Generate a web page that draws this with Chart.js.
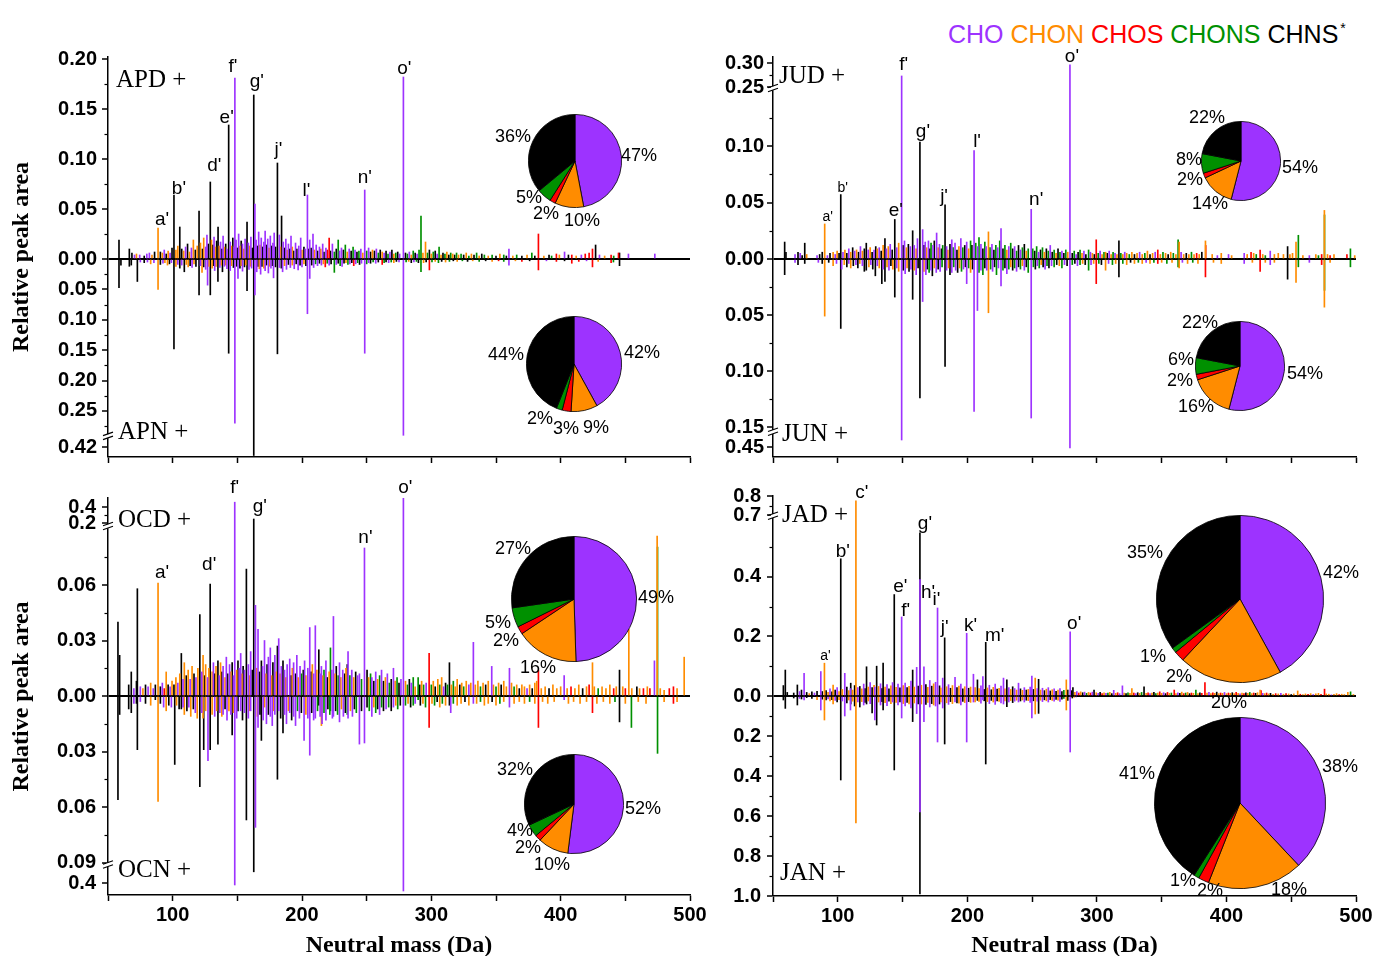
<!DOCTYPE html>
<html>
<head>
<meta charset="utf-8">
<script src="https://cdn.jsdelivr.net/npm/chart.js@4.4.0/dist/chart.umd.min.js"></script>
<style>
body{margin:0;background:#fff;width:1376px;height:956px;position:relative;overflow:hidden;font-family:"Liberation Sans",Arial,sans-serif}
canvas{position:absolute}
.tag{position:absolute;font-family:"Liberation Serif","Times New Roman",serif;font-size:25px;line-height:1;white-space:nowrap}
.pct{position:absolute;font-size:18px;line-height:1;transform:translate(-50%,-50%);white-space:nowrap}
#legend{position:absolute;left:948px;top:21px;font-size:25px;line-height:1;white-space:nowrap}
#legend sup{font-size:14px;vertical-align:10px;margin-left:2px}
</style>
</head>
<body>
<div id="legend"></div>
<script>
// classes: CHO, CHON, CHOS, CHONS, CHNS
const P = 0, O = 1, R = 2, G = 3, K = 4;
const classes = ['CHO', 'CHON', 'CHOS', 'CHONS', 'CHNS'];
const colors = ['#9d33ff', '#ff8c00', '#ff0000', '#009000', '#000000'];
const massTicks = [50, 100, 150, 200, 250, 300, 350, 400, 450, 500];

// peaks: [neutral mass, relative peak area, class]
const apdPeaks = [
  [58.5,.019,K],[66.5,.010,K],[68.5,.006,K],[70.5,.004,P],[72,.005,O],[74.5,.004,P],[78,.003,K],[80,.005,P],[82,.006,P],[84,.004,O],
  [86,.007,K],[88.7,.031,O],[90.5,.007,K],[92,.006,O],[93.5,.009,P],[95,.005,K],[96.5,.008,O],[98,.006,P],[99.5,.011,K],[101,.064,K],
  [102.5,.009,O],[104,.013,O],[105.5,.032,K],[107,.010,K],[108.5,.008,O],[110,.012,P],[111.5,.015,K],[113,.007,O],[114.5,.011,P],[116,.019,O],
  [117.5,.009,K],[119,.013,O],[120.4,.048,K],[121.5,.016,O],[123,.010,K],[124,.021,O],[125.5,.012,P],[126.5,.024,P],[127.5,.015,K],[129.1,.077,K],
  [130,.019,O],[131,.014,K],[132,.022,P],[133,.012,O],[134,.018,K],[135.1,.032,K],[136,.013,O],[137,.017,P],[138,.010,K],[139,.023,P],
  [140,.012,O],[141,.015,K],[142,.010,P],[143.3,.134,K],[144.5,.017,P],[145.5,.013,O],[146.5,.021,K],[147.5,.012,P],[148.1,.181,P],[149,.019,P],
  [150,.011,K],[151,.025,P],[152,.013,O],[153,.018,K],[154,.015,P],[155,.010,O],[156,.020,P],[157.5,.037,K],[158.5,.016,P],[159.5,.013,O],
  [160.5,.022,P],[161.5,.011,K],[162.7,.164,K],[163.6,.055,P],[164.5,.019,P],[165.5,.013,K],[166.5,.027,P],[167.5,.014,O],[168.5,.021,P],[169.5,.012,K],
  [170.5,.017,P],[171.5,.028,P],[172.5,.014,K],[173.5,.020,P],[174.5,.011,O],[175.5,.023,P],[176.5,.013,K],[177.5,.016,P],[178.5,.026,P],[179.5,.012,K],
  [181,.096,K],[182.5,.024,P],[183.3,.012,O],[184.2,.043,K],[185.5,.017,P],[186.5,.011,K],[187.5,.020,P],[188.5,.009,O],[189.5,.015,P],[190.5,.010,K],
  [191.5,.023,P],[192.5,.012,O],[193.5,.008,K],[195,.016,P],[196,.010,K],[197.5,.013,P],[199,.021,P],[200,.009,O],[201.5,.012,K],[202.5,.010,P],
  [204.2,.064,P],[205,.010,K],[206,.019,P],[207,.011,K],[208.5,.025,P],[209.5,.009,O],[211,.014,P],[212,.008,K],[213.5,.012,P],[214.5,.010,O],
  [216,.015,P],[217,.007,K],[218.5,.011,P],[219.5,.009,R],[221,.021,R],[222,.008,K],[223.5,.015,P],[225,.007,G],[226.5,.010,K],[228,.019,G],
  [229,.008,P],[230.5,.011,P],[232,.009,K],[233.5,.014,G],[235,.007,O],[236.5,.010,P],[238,.008,K],[239.5,.012,G],[241,.009,P],[242.5,.007,K],
  [244,.008,G],[245.5,.010,P],[247,.006,O],[248.5,.069,P],[250,.008,G],[251.5,.011,P],[253,.007,K],[254.5,.009,O],[256,.008,K],[257.5,.010,P],
  [259,.006,G],[260.5,.009,K],[262,.007,O],[263.5,.006,P],[265,.008,K],[266.5,.005,G],[268,.007,P],[269.5,.009,K],[271,.005,O],[272.5,.006,G],
  [274,.007,K],[275.5,.005,P],[278.4,.182,P],[280,.006,K],[281.5,.005,G],[283,.007,P],[284.5,.004,O],[286,.008,G],[287.5,.006,K],[289,.005,P],
  [290.5,.009,G],[292,.043,G],[293.5,.006,O],[295.5,.017,O],[297,.006,G],[298.5,.009,K],[300,.005,O],[301.5,.007,G],[303,.008,K],[304.5,.005,P],
  [306,.012,G],[307.5,.004,O],[309,.006,K],[310.5,.005,G],[312,.007,O],[313.5,.004,K],[315,.006,G],[316.5,.005,O],[318,.004,K],[319.5,.006,G],
  [321,.004,O],[323,.005,G],[325,.004,K],[327,.006,O],[329,.003,G],[331,.005,O],[333,.004,K],[335,.006,G],[337,.003,O],[339,.005,K],
  [341,.004,G],[344,.003,O],[347,.004,G],[350,.003,K],[353,.005,O],[356,.004,G],[358,.003,K],[360,.010,P],[363,.003,O],[366,.004,G],
  [370,.003,K],[374,.004,O],[377.7,.006,G],[380,.003,K],[382.8,.025,R],[387,.003,O],[391,.004,K],[393,.003,G],[396.7,.005,R],[399,.004,O],
  [403,.007,P],[406,.004,K],[408.6,.004,R],[412,.003,O],[416,.004,P],[419,.005,R],[422,.006,R],[424.6,.010,R],[427,.014,K],[430,.004,P],
  [434,.003,O],[439,.004,R],[441,.003,G],[444.7,.006,R],[445.5,.006,K],[452.4,.005,P],[472.8,.005,P]
];
const apnPeaks = [
  [58.5,.047,K],[60,.010,K],[66.5,.012,K],[68,.010,K],[72.7,.037,K],[75,.005,P],[78,.006,K],[80.5,.005,P],[83,.008,O],[85.5,.006,P],
  [88.7,.050,O],[90.5,.009,K],[92.5,.007,P],[94,.006,O],[96,.010,O],[97.5,.008,K],[99,.006,P],[101,.148,K],[102.5,.012,O],[104,.009,P],
  [105.5,.015,K],[107,.010,P],[109,.021,K],[110.5,.009,O],[112,.013,O],[113.5,.011,K],[115,.014,P],[116.5,.008,O],[118,.012,K],[120.4,.059,K],
  [121.5,.011,P],[122.7,.022,O],[124,.013,K],[125.5,.017,P],[127,.043,P],[128,.012,O],[129.1,.059,K],[130.5,.015,O],[131.5,.011,K],[132.5,.019,P],
  [133.5,.012,O],[135,.037,K],[136.5,.014,P],[137.5,.010,O],[138.5,.021,K],[140,.012,P],[141,.010,O],[142,.016,P],[143.3,.155,K],[144.5,.019,P],
  [145.5,.011,O],[147,.014,K],[148.1,.270,P],[149.5,.012,K],[150.5,.032,P],[152,.015,K],[153,.011,O],[154,.020,P],[155.5,.013,K],[156.5,.010,O],
  [157.5,.052,K],[159,.017,P],[160,.012,O],[161,.015,P],[162.7,.437,K],[163.6,.059,P],[165,.021,P],[166,.012,K],[167,.016,O],[168,.025,P],
  [169,.012,K],[170.5,.015,O],[171.5,.019,P],[172.5,.010,K],[174,.023,P],[175,.012,O],[176,.015,P],[177,.011,K],[178,.031,P],[179.5,.013,K],
  [181,.156,K],[182.5,.014,P],[184,.015,K],[185,.021,P],[186.5,.011,O],[188,.017,P],[189.5,.009,K],[191,.014,P],[192.5,.010,O],[194,.016,P],
  [195.5,.008,K],[197,.018,P],[198.5,.010,K],[200,.013,P],[201.5,.008,O],[203,.011,K],[204.2,.090,P],[206,.032,P],[207.5,.010,K],[209,.014,P],
  [210.5,.008,G],[212,.011,P],[213.5,.007,K],[215,.010,P],[216.5,.008,O],[218,.013,R],[219.5,.007,G],[221,.010,P],[222.5,.008,K],[225,.022,G],
  [226.5,.009,P],[228,.007,K],[229.5,.011,G],[231,.012,P],[232.5,.007,K],[234,.006,O],[235.5,.009,G],[237,.008,P],[238.5,.006,K],[240,.011,R],
  [241.5,.008,P],[243,.006,G],[244.5,.009,K],[246,.007,P],[248.5,.155,P],[250,.008,G],[251.5,.006,P],[253,.007,K],[255,.005,G],[257,.007,P],
  [259,.005,K],[262,.009,R],[263.5,.006,G],[265,.005,K],[267,.006,P],[269,.005,G],[271,.006,O],[273,.004,K],[275,.005,P],[278.4,.290,P],
  [280.5,.005,G],[282.5,.004,O],[284.5,.006,K],[286.5,.005,P],[288.5,.004,G],[290,.006,K],[292,.021,G],[294,.006,O],[296,.005,K],[298.5,.018,R],
  [300.5,.005,G],[303,.004,O],[305.5,.006,G],[308,.004,K],[311,.005,O],[314,.004,G],[317,.003,K],[320,.004,O],[324,.003,G],[328,.004,K],
  [332,.003,O],[337,.004,G],[342,.003,K],[347,.004,O],[352,.003,R],[356,.004,G],[360,.010,P],[365,.003,O],[370,.004,R],[376,.003,K],
  [382.8,.018,R],[389,.003,P],[396.7,.004,R],[403,.003,K],[408.6,.007,R],[414,.004,R],[420,.003,P],[424.6,.013,R],[429,.004,O],[439,.006,R],
  [440.8,.005,G],[445.5,.011,K]
];
const judPeaks = [
  [59,.015,K],[60,.006,K],[67,.004,P],[69.3,.006,K],[71,.005,P],[72.5,.003,K],[74.5,.014,K],[76,.004,O],[84,.003,P],[86,.004,K],
  [88,.006,K],[89.9,.031,O],[92,.003,P],[94,.005,K],[96.4,.006,O],[98,.004,P],[99.5,.007,O],[101,.005,K],[102.3,.057,K],[104,.006,P],
  [105.5,.008,O],[107,.005,K],[108.5,.009,P],[110,.006,O],[111.5,.010,K],[113,.007,P],[114.5,.008,O],[116,.006,K],[117.5,.011,P],[119,.007,O],
  [120.5,.009,K],[122,.014,K],[123.5,.008,P],[125,.010,O],[126.5,.006,K],[128,.008,P],[129.3,.011,K],[130.5,.009,O],[132,.010,P],[133.5,.007,K],
  [135,.012,O],[136.4,.018,K],[137.5,.009,P],[139,.011,O],[140.5,.013,P],[142,.008,K],[144,.035,K],[145.5,.010,P],[147,.014,O],[149.3,.273,P],
  [150.5,.012,K],[151.5,.016,P],[153,.010,O],[154.5,.013,K],[156,.011,P],[157.8,.025,K],[159,.012,P],[160.5,.009,O],[161.5,.018,P],[163.4,.1035,K],
  [165.5,.026,P],[166.5,.012,K],[167.5,.015,P],[168.5,.010,O],[170,.016,P],[171,.009,K],[172,.014,G],[173.5,.012,P],[174.5,.016,K],[176.3,.023,P],
  [177.5,.010,O],[178.5,.013,P],[180,.009,K],[181,.012,G],[182.8,.048,K],[184,.011,P],[185,.008,O],[186.6,.013,K],[188,.017,P],[189,.010,G],
  [190.5,.014,P],[192,.008,K],[193.5,.011,O],[195,.018,P],[196.5,.010,G],[198,.012,K],[199.5,.015,P],[201,.009,O],[202.5,.016,G],[203.5,.012,K],
  [205.2,.096,P],[206.5,.014,G],[208,.011,P],[209,.019,G],[210.5,.013,P],[212,.009,K],[213.5,.015,G],[214.5,.011,P],[216.3,.024,O],[217.5,.010,G],
  [219,.013,P],[220.5,.008,K],[222,.012,G],[223.5,.010,P],[225,.016,G],[226,.027,P],[227.5,.009,K],[229,.012,G],[230.5,.008,O],[232,.011,P],
  [233.5,.014,G],[235,.009,K],[236.5,.011,P],[238,.007,G],[239.5,.012,K],[241,.008,P],[242.5,.010,G],[244,.013,K],[245.5,.007,O],[247,.009,G],
  [249.3,.044,P],[250.5,.009,G],[252,.007,K],[253.5,.011,G],[255,.006,P],[256.5,.008,K],[258,.010,G],[259.5,.006,O],[261,.009,K],[262.5,.007,G],
  [264,.012,P],[265.5,.006,K],[267,.008,G],[268.5,.005,O],[270,.009,K],[271.5,.006,G],[273,.007,P],[274.5,.005,K],[276,.008,G],[277.5,.006,O],
  [279.2,.296,P],[281,.005,K],[282.5,.007,G],[284,.004,P],[285.5,.006,K],[287,.008,G],[288.5,.005,O],[290,.007,P],[291.5,.004,K],[293.6,.008,G],
  [295,.006,P],[296.5,.005,O],[298,.004,K],[299.5,.017,R],[301,.005,G],[302.5,.007,P],[304,.004,O],[305.5,.006,G],[306.7,.006,O],[308,.005,K],
  [309.5,.007,P],[311,.004,O],[312.5,.006,G],[314,.005,P],[315.5,.004,O],[317,.016,K],[318.5,.005,G],[320,.004,O],[321.5,.006,P],[323,.005,O],
  [325,.004,G],[327,.006,O],[329,.004,K],[331,.005,O],[333,.006,P],[335,.004,O],[337,.005,G],[339,.007,O],[341,.004,K],[343,.005,O],
  [345,.006,P],[347,.008,R],[349,.004,O],[351,.006,G],[353,.005,O],[355,.004,K],[357,.006,O],[359,.005,G],[361,.004,O],[362.7,.017,G],
  [363.5,.015,O],[365,.006,P],[367,.004,O],[369,.005,K],[371,.004,O],[373,.006,G],[375,.004,O],[377,.005,R],[379,.004,O],[381,.006,K],
  [383.8,.016,O],[384,.012,R],[389,.004,O],[393,.003,P],[396,.005,O],[401.6,.004,P],[404,.003,O],[413.7,.005,P],[416,.004,O],[419,.006,R],
  [421,.005,O],[423,.004,G],[426,.008,R],[428,.004,O],[430,.003,G],[433.8,.007,P],[437,.004,O],[440,.005,O],[444,.004,O],[447.2,.011,K],
  [449,.004,O],[451,.005,O],[453.7,.015,O],[455.5,.021,G],[459,.003,O],[464,.003,P],[469,.004,O],[471,.003,G],[473.5,.004,R],[475.6,.043,O],
  [475.7,.039,G],[478,.004,O],[480,.003,R],[483,.004,O],[493,.004,R],[495.7,.009,G],[499,.003,O]
];
const junPeaks = [
  [59,.014,K],[67,.003,P],[69.3,.005,K],[74.5,.004,K],[85,.003,P],[88,.004,K],[89.9,.051,O],[93,.003,K],[96.4,.006,O],[99,.004,P],
  [102.3,.062,K],[103,.009,P],[105,.005,O],[107,.007,K],[108.5,.004,P],[110,.008,O],[112,.006,K],[114,.005,P],[115.5,.008,K],[117,.004,O],
  [119,.006,P],[120.5,.011,K],[122,.010,K],[124,.007,O],[125.5,.005,P],[127,.009,K],[129,.015,K],[130.5,.006,P],[132,.008,O],[134,.022,K],
  [135,.009,P],[136.4,.020,K],[138,.007,O],[139.5,.010,P],[141,.006,K],[142.5,.009,O],[144,.034,K],[145.5,.008,P],[147,.011,O],[149.3,.436,P],
  [150.5,.010,K],[152,.013,P],[153.5,.008,O],[155,.011,K],[156.5,.009,P],[157.8,.036,K],[159,.010,O],[160.5,.014,P],[162,.008,K],[163.4,.124,K],
  [165.5,.038,P],[166.5,.011,O],[168,.014,P],[169,.009,K],[170.5,.012,G],[172,.010,P],[173,.015,K],[174.5,.008,O],[176,.012,P],[177.5,.009,K],
  [179,.011,P],[180.5,.007,G],[182.8,.096,K],[184,.010,P],[185.5,.008,O],[186.6,.014,K],[188,.012,P],[189.5,.007,G],[191,.010,P],[192.5,.012,K],
  [194,.008,O],[195.5,.011,G],[197,.009,P],[198.5,.007,K],[199.5,.022,P],[201,.008,G],[202.5,.012,O],[204,.009,K],[205.2,.136,P],[207.8,.046,P],
  [209,.012,G],[210.5,.010,P],[212,.014,G],[213.5,.008,K],[215,.010,P],[216.3,.048,O],[218,.009,G],[219.5,.011,P],[221,.007,K],[222.5,.014,G],
  [224,.008,P],[226,.024,P],[227.5,.010,G],[229,.008,K],[230.5,.013,P],[232,.009,G],[233.5,.007,O],[235,.010,K],[236.5,.008,G],[238,.011,P],
  [239.5,.007,K],[241,.009,G],[242.5,.006,O],[244,.010,P],[245.5,.007,K],[247,.012,G],[249.3,.142,P],[251,.007,G],[252.5,.009,K],[254,.006,P],
  [255.5,.008,G],[257,.005,O],[258.5,.007,K],[260,.009,P],[261.5,.006,G],[263,.008,K],[265,.006,P],[267,.007,G],[269,.005,K],[271,.006,O],
  [273,.008,G],[275,.005,P],[277,.006,K],[279.2,.452,P],[281,.005,G],[283,.004,K],[285,.006,P],[287,.005,G],[289,.004,O],[291,.005,K],
  [293.6,.010,G],[295.5,.005,P],[297.5,.004,O],[299.5,.022,R],[301.5,.004,G],[303.5,.005,K],[306.7,.010,O],[309,.004,P],[312,.005,G],[314.5,.004,O],
  [317,.016,K],[320,.004,G],[323,.005,O],[326,.003,K],[329,.004,O],[332,.003,G],[335,.004,O],[338,.003,P],[341,.004,O],[344,.003,G],
  [347,.004,R],[350,.003,O],[354,.004,G],[358,.003,O],[362.7,.007,G],[363.5,.008,O],[366,.003,P],[370,.004,O],[374,.003,G],[378,.004,O],
  [383.8,.016,R],[390,.003,O],[396,.004,O],[413.7,.004,P],[420,.003,O],[426,.011,R],[430,.003,O],[433.8,.005,P],[437,.003,O],[447.2,.018,K],
  [453.7,.021,O],[455.5,.007,G],[464,.003,P],[473.5,.005,R],[475.6,.043,O],[475.7,.028,G],[480,.003,O],[495.7,.007,G]
];
const ocdPeaks = [
  [57.7,.040,K],[59,.022,K],[66,.006,K],[68,.013,K],[70,.004,P],[72,.008,K],[72.7,.058,K],[75,.005,P],[77,.004,O],[79,.006,K],
  [81,.005,P],[83,.007,O],[85,.004,P],[86.6,.006,K],[88.7,.061,O],[90.5,.005,K],[92,.007,P],[93.5,.004,R],[95,.013,O],[96.5,.006,K],
  [98,.005,P],[99.5,.008,O],[101,.006,K],[102.5,.010,O],[104,.007,P],[105.5,.012,O],[106.7,.023,K],[108,.009,P],[109,.018,O],[110.5,.011,K],
  [112,.014,O],[113.5,.009,P],[115,.016,O],[116.5,.012,K],[118,.010,P],[119.5,.015,O],[121,.044,K],[122.5,.013,P],[123.5,.022,O],[124.5,.011,K],
  [125.5,.017,O],[127,.010,P],[128,.015,O],[129,.0605,K],[130.5,.013,O],[131.5,.018,P],[132.5,.012,K],[133.5,.016,O],[135,.019,K],[136,.011,P],
  [137,.018,O],[138,.013,K],[139,.016,P],[140.5,.010,O],[141.5,.021,P],[142.5,.012,K],[144,.017,P],[145,.013,O],[146,.018,K],[147,.011,P],
  [148,.460,P],[149.5,.014,O],[150.5,.019,K],[151.5,.015,P],[152.6,.023,P],[153.5,.012,O],[154.5,.016,K],[155.5,.014,P],[157,.0686,K],[158.5,.017,P],
  [159.5,.011,O],[160.3,.024,P],[161.5,.014,K],[162.7,.250,K],[164,.049,P],[165,.015,O],[166,.036,P],[167,.013,K],[168.6,.019,K],[169.5,.016,P],
  [171,.030,P],[172,.012,O],[173,.017,K],[174,.021,P],[175.5,.026,P],[176.5,.011,O],[177.5,.018,K],[179,.022,P],[180,.013,O],[181,.027,K],
  [182,.031,P],[183,.012,O],[184,.016,P],[185.3,.019,K],[186.5,.014,P],[187.5,.010,O],[188.5,.017,P],[190.5,.020,P],[191.5,.011,K],[192.5,.015,O],
  [193.5,.018,P],[195,.012,K],[196,.022,P],[197,.010,O],[198.5,.016,P],[199.5,.012,G],[201,.014,K],[202,.019,P],[203,.011,O],[204.5,.015,P],
  [206,.037,P],[207,.013,K],[208,.017,O],[209,.012,P],[210.3,.038,P],[211.5,.014,O],[213,.025,K],[214,.012,P],[215,.016,P],[216,.011,O],
  [217,.014,G],[218.5,.019,P],[219.5,.010,K],[221,.013,O],[222,.026,G],[223,.014,P],[224.3,.043,P],[225.5,.012,O],[226.5,.016,K],[228,.011,G],
  [229,.018,P],[230,.010,O],[231.5,.014,P],[233,.012,K],[234,.015,O],[235,.017,K],[235.6,.024,P],[237,.011,G],[238.5,.014,P],[240,.010,O],
  [241.5,.013,K],[243,.011,P],[244.4,.012,P],[246,.009,G],[248.3,.080,P],[250.3,.014,K],[251.5,.010,O],[253,.012,G],[254,.010,P],[255.5,.008,K],
  [257,.013,P],[258.5,.009,O],[260,.011,G],[261.5,.014,P],[263,.008,K],[264.5,.010,O],[266,.012,P],[267.5,.007,G],[269,.009,K],[270.7,.015,P],
  [272,.008,O],[273.5,.010,G],[275,.007,K],[276.5,.009,P],[278.4,.510,P],[280,.008,O],[281.5,.006,G],[283,.009,K],[284.5,.007,P],[286,.010,G],
  [287.5,.005,O],[289.8,.010,G],[291,.006,K],[292.5,.008,O],[294,.006,G],[296,.007,P],[298.3,.023,R],[300,.006,G],[301.5,.008,O],[303,.005,K],
  [305,.009,O],[306.5,.006,G],[308,.010,O],[309.5,.005,P],[311,.007,K],[312.5,.006,G],[314,.018,K],[315.5,.006,O],[317,.008,G],[318.5,.005,O],
  [320,.009,O],[322,.006,K],[323.5,.007,O],[325,.005,G],[327,.008,O],[329,.006,P],[330.5,.007,O],[332.5,.029,P],[334,.006,O],[336,.008,O],
  [338,.005,G],[340,.007,O],[342,.006,K],[344,.008,O],[346.7,.016,P],[348,.006,O],[350,.005,G],[352,.007,O],[354,.006,K],[356,.008,O],
  [358,.005,O],[360.4,.015,P],[362,.007,O],[364,.005,G],[366,.006,O],[368,.004,K],[370,.006,O],[372,.005,O],[374,.004,P],[376,.006,O],
  [378,.004,K],[380,.007,O],[381.5,.008,O],[382.8,.014,R],[385,.004,O],[388,.005,O],[391,.004,K],[394,.006,O],[397,.004,O],[400,.005,O],
  [402.7,.011,P],[405,.004,O],[408,.005,R],[411,.004,O],[414,.006,O],[417,.004,K],[420,.005,O],[422,.006,R],[424.6,.018,O],[426,.005,O],
  [429,.004,G],[432,.005,O],[435,.004,O],[438,.006,O],[441,.004,R],[443,.005,O],[445.5,.014,K],[448,.005,O],[450,.004,R],[452.7,.036,O],
  [455,.004,O],[458.9,.005,K],[461,.004,O],[464,.004,R],[467,.005,O],[469,.004,R],[472.5,.019,P],[474.6,.0865,O],[474.9,.0805,G],[477,.004,O],
  [480,.003,O],[484,.004,R],[487.2,.005,R],[490,.004,O],[495.5,.021,O]
];
const ocnPeaks = [
  [57.7,.056,K],[59,.010,K],[66,.007,K],[68,.009,K],[70,.004,P],[72,.004,K],[72.7,.029,K],[75,.003,P],[79,.004,K],[83,.005,O],
  [86.6,.002,K],[88.7,.057,O],[90.5,.004,K],[93,.006,P],[95,.008,O],[97,.005,K],[99,.006,P],[101.6,.037,K],[103,.005,O],[105,.007,K],
  [106.7,.007,K],[108,.006,P],[109,.010,O],[111,.008,K],[112.5,.006,P],[114,.011,O],[116,.007,K],[117.5,.009,P],[119,.012,O],[121,.049,K],
  [122.5,.009,P],[123.5,.012,O],[124,.029,K],[125.5,.008,O],[127.3,.035,P],[129,.029,K],[130.5,.010,O],[132.5,.011,P],[134,.008,O],[135,.026,K],
  [136.5,.009,P],[138,.011,O],[139,.010,P],[140.5,.007,K],[142,.013,P],[143.5,.008,O],[145,.010,P],[146,.021,K],[147,.009,O],[148,.425,P],
  [149.5,.012,P],[150.5,.008,K],[152.6,.008,P],[154,.013,K],[155.5,.009,P],[157,.067,K],[158.5,.012,P],[159.5,.008,O],[160.3,.008,P],[162.7,.260,K],
  [164,.071,P],[165.5,.011,O],[166,.017,P],[167.5,.010,K],[168.6,.024,K],[170,.013,P],[171,.006,O],[172.5,.015,P],[174,.010,K],[175.5,.011,P],
  [177,.016,P],[178,.008,O],[179,.010,P],[181,.045,K],[182,.008,P],[183.5,.012,K],[185.3,.020,K],[186.5,.010,P],[188,.015,P],[189.5,.008,O],
  [190.5,.009,P],[192,.013,K],[193.5,.011,P],[195,.016,P],[196.5,.008,G],[198,.012,P],[199.5,.009,K],[201.6,.024,P],[203,.010,O],[204.5,.012,P],
  [206,.032,P],[207.5,.009,K],[209,.013,P],[210.3,.012,P],[212,.008,G],[213,.005,K],[214,.011,P],[215,.016,O],[215.5,.015,P],[217,.009,G],
  [218.5,.013,P],[220,.007,K],[221.5,.010,G],[222,.008,G],[223.5,.012,P],[224.3,.011,P],[226,.008,K],[227.5,.010,G],[229,.014,P],[230.5,.007,O],
  [232,.011,P],[233.5,.009,K],[235,.010,G],[235.6,.012,P],[237.5,.008,O],[239,.011,P],[240.5,.007,K],[242,.009,G],[244.4,.026,P],[246,.008,K],
  [248.3,.0254,P],[250.3,.006,K],[252,.008,G],[254,.011,P],[255.5,.006,O],[257,.009,G],[258.5,.007,K],[260,.010,P],[261.5,.006,G],[263,.008,K],
  [265,.007,P],[267,.006,G],[269,.008,K],[270.7,.006,P],[272.5,.005,O],[274,.007,G],[276,.005,K],[278.4,.500,P],[280,.005,G],[282,.004,O],
  [284,.006,K],[286,.005,G],[287.5,.004,P],[289.8,.002,G],[291.5,.005,K],[293.5,.004,O],[295.5,.006,G],[298.3,.017,R],[300.5,.004,O],[302.5,.005,G],
  [304.5,.003,K],[306.5,.006,O],[308.5,.004,G],[311,.005,O],[314,.005,K],[315,.009,P],[317,.004,G],[320,.005,O],[323,.004,O],[326,.003,K],
  [329,.005,O],[332.5,.004,P],[335,.004,O],[338,.003,G],[341,.005,O],[344,.004,O],[347,.003,K],[350,.005,O],[353,.004,G],[356,.003,O],
  [360.4,.006,P],[364,.004,O],[368,.003,O],[372,.004,O],[376,.003,G],[380,.004,O],[382.8,.017,R],[386,.003,O],[390,.004,O],[395,.003,O],
  [402.7,.002,P],[406,.004,O],[410,.003,O],[415,.004,O],[420,.003,O],[424.6,.009,R],[428,.004,O],[433,.003,O],[438,.004,O],[442,.003,G],
  [445.5,.014,K],[450,.004,O],[454.7,.017,G],[460,.003,O],[466,.004,O],[474.9,.031,G],[480,.003,O],[487.2,.004,R],[490,.003,O]
];
const jadPeaks = [
  [58,.035,K],[59.5,.087,K],[61,.012,K],[66,.010,K],[68.8,.037,K],[70.5,.015,P],[72,.020,K],[74,.076,P],[76,.012,K],[78,.008,O],
  [80,.014,K],[82,.010,P],[84,.016,K],[86.9,.082,P],[88,.015,K],[89.7,.110,O],[91,.018,K],[92.5,.012,O],[94,.024,P],[95.5,.014,K],
  [96.4,.037,O],[98,.020,K],[99.5,.028,P],[101,.015,O],[102.3,.460,K],[103.5,.022,O],[105.4,.076,P],[107,.030,K],[108.5,.018,O],[109.8,.025,P],
  [110,.043,K],[111.5,.020,O],[113,.035,K],[114,.774,O],[115.5,.028,P],[117,.032,K],[118.5,.024,O],[120,.040,P],[121,.025,K],[122.2,.098,K],
  [123.5,.030,O],[125,.045,P],[126.5,.028,K],[128,.036,O],[128.6,.030,P],[130,.100,K],[131.5,.032,O],[133,.041,P],[134,.025,K],[135,.110,K],
  [136.5,.030,O],[138,.038,P],[139.5,.024,K],[141,.034,O],[142.3,.045,P],[143.6,.340,K],[145,.029,O],[146.5,.040,P],[148,.027,K],[149.3,.265,P],
  [150.5,.035,O],[152,.043,P],[153.5,.028,K],[155,.032,O],[156.5,.050,P],[157.8,.087,K],[159,.030,O],[160.9,.096,P],[162,.033,K],[163.4,.547,K],
  [163.45,.390,P],[164.5,.036,O],[166.5,.098,P],[168,.038,K],[169.5,.029,O],[171,.052,P],[172.5,.033,K],[174,.041,O],[175.5,.046,P],[177,.295,P],
  [178.5,.034,K],[179.5,.027,O],[181,.060,P],[182.5,.195,K],[184,.031,O],[185.5,.038,P],[187,.026,K],[188.5,.035,O],[190.5,.063,P],[192,.028,K],
  [193.5,.033,O],[195,.040,P],[196.5,.024,K],[198,.031,O],[199.5,.210,P],[201,.026,K],[202.5,.030,O],[204.7,.073,P],[206,.028,O],[207.8,.054,K],
  [209,.025,O],[210.5,.034,P],[212,.065,P],[213,.022,K],[214.2,.180,K],[215.5,.027,O],[217,.036,P],[218.5,.021,K],[220,.029,O],[221.5,.040,P],
  [223,.023,K],[224.5,.026,O],[226,.033,P],[227.9,.060,P],[229,.024,O],[230.5,.054,K],[232,.028,P],[233.5,.022,O],[235,.031,K],[236.5,.025,P],
  [238,.020,O],[239.5,.043,P],[241,.024,K],[242.5,.019,O],[244,.028,P],[245.5,.020,K],[247,.022,O],[248.5,.030,P],[249.8,.067,P],[251,.022,K],
  [252.4,.060,O],[254,.025,P],[255,.056,K],[256.5,.020,O],[258,.026,P],[259.5,.018,K],[261,.023,O],[262.5,.028,P],[264,.017,K],[265.5,.021,O],
  [267,.024,P],[268.5,.016,K],[270,.020,O],[271.5,.025,P],[273,.015,K],[274.5,.019,G],[276.4,.054,O],[277.5,.020,K],[279.4,.215,P],[280.5,.018,K],
  [281.5,.028,K],[283,.012,O],[284.5,.015,P],[286,.010,R],[287.5,.014,O],[289,.011,K],[290.5,.013,P],[292,.009,G],[293.5,.012,O],[295,.010,R],
  [296.5,.013,P],[297.8,.020,K],[299.5,.011,O],[301,.009,P],[302.5,.012,K],[304,.008,R],[305.5,.011,O],[307,.009,P],[308.5,.010,G],[310,.012,O],
  [311.5,.008,K],[313,.019,P],[314.5,.009,O],[316,.011,R],[317.5,.008,P],[319.7,.034,P],[321,.010,O],[322.5,.008,K],[324,.011,G],[325.5,.009,O],
  [327,.025,O],[328.5,.010,R],[330,.008,P],[331.5,.011,K],[333,.009,O],[334.5,.012,G],[336.4,.031,K],[338,.009,O],[339.5,.011,R],[341,.008,P],
  [342.5,.010,O],[344,.012,K],[345.5,.008,G],[347,.010,O],[348.5,.014,R],[350,.009,O],[351.5,.011,P],[353,.008,K],[354.5,.012,R],[356,.009,O],
  [357.5,.010,G],[359.7,.020,R],[361,.008,O],[362.5,.011,P],[364,.009,K],[365.5,.013,O],[367,.008,R],[368.5,.010,G],[370,.012,O],[371.5,.008,K],
  [373,.010,R],[374.5,.009,O],[376.4,.020,G],[378,.008,O],[379.5,.011,K],[381,.009,R],[383.4,.045,R],[385,.010,O],[386.5,.012,P],[388,.008,O],
  [389.5,.011,R],[391,.009,O],[392.5,.013,K],[394,.008,O],[395.5,.010,R],[397,.009,O],[398.5,.012,P],[400,.008,O],[401.5,.010,R],[403,.009,O],
  [404.5,.011,K],[406,.008,O],[407.5,.012,R],[409,.009,O],[410.5,.007,P],[412,.010,O],[413.5,.008,R],[415,.011,K],[416.5,.009,O],[418,.012,G],
  [419.5,.008,O],[421,.010,R],[422.5,.009,K],[424,.011,O],[426,.020,O],[426.7,.018,R],[428,.009,P],[429.5,.008,O],[431,.010,R],[432.5,.007,O],
  [434,.009,K],[436,.006,O],[438,.008,R],[440,.007,O],[442,.009,P],[444,.006,O],[446,.008,R],[448,.007,O],[450,.005,K],[452,.007,O],
  [455,.017,O],[457,.006,R],[459,.005,O],[461,.007,O],[463,.006,R],[465,.008,O],[467,.005,P],[469,.007,O],[471,.009,O],[473,.006,R],
  [475.7,.023,R],[477,.007,O],[479,.006,O],[481,.004,P],[483,.006,O],[485,.008,O],[487,.005,R],[489,.006,O],[491,.005,O],[493.7,.012,O],
  [495.8,.014,G],[498,.005,O]
];
const janPeaks = [
  [58,.020,K],[59.5,.062,K],[66,.010,K],[68.8,.045,K],[70.5,.012,P],[72,.015,K],[74,.020,P],[76,.008,K],[80,.012,K],[84,.018,O],
  [86.9,.070,P],[88,.016,K],[89.7,.120,O],[91,.020,K],[92.5,.014,P],[94,.025,O],[95.5,.018,K],[96.4,.040,O],[98,.022,P],[99.5,.030,K],
  [101,.018,O],[102.3,.420,K],[103.5,.025,P],[105.4,.100,P],[107,.035,K],[108.5,.020,O],[109.8,.070,P],[110,.040,K],[111.5,.026,O],[113,.050,K],
  [114,.635,O],[115.5,.030,P],[117,.055,K],[118.5,.028,O],[120,.045,P],[121,.032,K],[122.2,.040,K],[123.5,.025,O],[125,.038,P],[126.5,.085,K],
  [128.6,.120,P],[130,.145,K],[131.5,.030,O],[133,.045,P],[134,.028,K],[135,.070,K],[136.5,.033,O],[138,.048,P],[139.5,.026,K],[141,.038,O],
  [142.3,.030,P],[143.6,.370,K],[145,.032,O],[146.5,.045,P],[148,.030,K],[149.3,.110,P],[150.5,.038,O],[152,.050,P],[153.5,.032,K],[155,.040,O],
  [156.5,.060,P],[157.8,.128,K],[159,.035,O],[160.9,.088,P],[162,.040,K],[163.4,.990,K],[163.45,.580,P],[164.5,.040,O],[166.5,.128,P],[168,.042,K],
  [169.5,.032,O],[171,.055,P],[172.5,.038,K],[174,.045,O],[175.5,.050,P],[177,.230,P],[178.5,.040,K],[179.5,.030,O],[181,.060,P],[182.5,.240,K],
  [184,.034,O],[185.5,.042,P],[187,.028,K],[188.5,.038,O],[190.5,.030,P],[192,.035,K],[193.5,.036,O],[195,.044,P],[196.5,.027,K],[198,.033,O],
  [199.5,.230,P],[201,.028,K],[202.5,.032,O],[204.7,.030,P],[206,.030,O],[207.8,.022,K],[209,.027,O],[210.5,.036,P],[212,.020,P],[213,.024,K],
  [214.2,.340,K],[215.5,.028,O],[217,.038,P],[218.5,.022,K],[220,.030,O],[221.5,.042,P],[223,.024,K],[224.5,.027,O],[226,.035,P],[227.9,.040,P],
  [229,.025,O],[230.5,.053,K],[232,.030,P],[233.5,.023,O],[235,.033,K],[236.5,.026,P],[238,.021,O],[239.5,.030,P],[241,.025,K],[242.5,.020,O],
  [244,.030,P],[245.5,.021,K],[247,.023,O],[248.5,.032,P],[249.8,.110,P],[251,.024,K],[252.4,.090,O],[254,.026,P],[255,.087,K],[256.5,.021,O],
  [258,.028,P],[259.5,.019,K],[261,.024,O],[262.5,.030,P],[264,.018,K],[265.5,.022,O],[267,.026,P],[268.5,.017,K],[270,.021,O],[271.5,.027,P],
  [273,.016,K],[274.5,.012,G],[276.4,.070,O],[277.5,.022,K],[279.4,.280,P],[281,.010,K],[282.5,.006,O],[284,.005,P]
];

// pie shares in %, order CHO, CHON, CHOS, CHONS, CHNS
const apdPie = [47, 10, 2, 5, 36];
const apnPie = [42, 9, 3, 2, 44];
const judPie = [54, 14, 2, 8, 22];
const junPie = [54, 16, 2, 6, 22];
const ocdPie = [49, 16, 2, 5, 27];
const ocnPie = [52, 10, 2, 4, 32];
const jadPie = [42, 20, 2, 1, 35];
const janPie = [38, 18, 2, 1, 41];

// tick labels (upper / lower half of each panel)
const apTicksUp = ['0.00', '0.05', '0.10', '0.15', '0.20'];
const apTicksDown = ['0.05', '0.10', '0.15', '0.20', '0.25', '0.42'];
const juTicksUp = ['0.00', '0.05', '0.10', '0.25', '0.30'];
const juTicksDown = ['0.05', '0.10', '0.15', '0.45'];
const ocTicksUp = ['0.00', '0.03', '0.06', '0.2', '0.4'];
const ocTicksDown = ['0.03', '0.06', '0.09', '0.4'];
const jaTicksUp = ['0.0', '0.2', '0.4', '0.7', '0.8'];
const jaTicksDown = ['0.2', '0.4', '0.6', '0.8', '1.0'];

// labelled peaks: [mass, class, label]
const apLabels = [[88.7,O,"a'"],[101,K,"b'"],[129.1,K,"d'"],[143.3,K,"e'"],[148.1,P,"f'"],[162.7,K,"g'"],[181,K,"j'"],[204.2,P,"l'"],[248.5,P,"n'"],[278.4,P,"o'"]];
const juLabels = [[89.9,O,"a'"],[102.3,K,"b'"],[144,K,"e'"],[149.3,P,"f'"],[163.4,K,"g'"],[182.8,K,"j'"],[205.2,P,"l'"],[249.3,P,"n'"],[279.2,P,"o'"]];
const ocLabels = [[88.7,O,"a'"],[129,K,"d'"],[148,P,"f'"],[162.7,K,"g'"],[248.3,P,"n'"],[278.4,P,"o'"]];
const jaLabels = [[89.7,O,"a'"],[102.3,K,"b'"],[114,O,"c'"],[143.6,K,"e'"],[149.3,P,"f'"],[163.4,K,"g'"],[163.45,P,"h'"],[177,P,"i'"],[182.5,K,"j'"],[199.5,P,"k'"],[214.2,K,"m'"],[279.4,P,"o'"]];

// ---------- layout ----------
const panels = [
  {up: apdPeaks, down: apnPeaks, ticksUp: apTicksUp, ticksDown: apTicksDown, labels: apLabels,
   box: [0, 30, 700, 440], padTop: 27, padRight: 10, yw: 108, xh: 13, xLabels: false, yTitle: true, tickPad: 5,
   segUp: [[0, 0.202, 0, 202]], segDown: [[0, 0.29, 0, 176.3], [0.40, 0.44, 178, 198]],
   minorUp: [0.025, 0.075, 0.125, 0.175], minorDown: [0.025, 0.075, 0.125, 0.175, 0.225, 0.275],
   labelPos: [[4,-8],[5,-6],[4,-16],[-2,-7],[-2,-11],[3,-13],[1,-13],[-1,-4],[0,-12],[1,-8]]},
  {up: judPeaks, down: junPeaks, ticksUp: juTicksUp, ticksDown: juTicksDown, labels: juLabels,
   box: [700, 30, 676, 440], padTop: 27, padRight: 20, yw: 73, xh: 13, xLabels: false, yTitle: false, tickPad: 3,
   segUp: [[0, 0.15, 0, 169.5], [0.25, 0.3125, 172, 202]], segDown: [[0, 0.15, 0, 168], [0.43, 0.47, 178, 198]],
   minorUp: [0.025, 0.075, 0.125, 0.275], minorDown: [0.025, 0.075, 0.125],
   labelPos: [[3,-7,14],[2,-6,14],[1,-9],[2,-11],[3,-10],[-1,-8],[3,-9],[5,-10],[2,-8]]},
  {up: ocdPeaks, down: ocnPeaks, ticksUp: ocTicksUp, ticksDown: ocTicksDown, labels: ocLabels,
   box: [0, 470, 720, 488], padTop: 28, padRight: 30, yw: 108, xh: 63, xLabels: true, yTitle: true, tickPad: 6,
   segUp: [[0, 0.09, 0, 166.5], [0.2, 0.5125, 173, 198]], segDown: [[0, 0.09, 0, 166.5], [0.2, 0.55, 171, 199]],
   minorUp: [0.015, 0.045, 0.075, 0.3], minorDown: [0.015, 0.045, 0.075],
   labelPos: [[4,-10],[-1,-19],[0,-14],[6,-12],[1,-10],[2,-10]]},
  {up: jadPeaks, down: janPeaks, ticksUp: jaTicksUp, ticksDown: jaTicksDown, labels: jaLabels,
   box: [720, 470, 656, 488], padTop: 26, padRight: 20, yw: 53, xh: 62, xLabels: true, yTitle: false, tickPad: 6,
   segUp: [[0, 0.6, 0, 179], [0.7, 0.8, 181, 200]], segDown: [[0, 1.0, 0, 200]],
   minorUp: [0.1, 0.3, 0.5, 0.75], minorDown: [0.1, 0.3, 0.5, 0.7, 0.9],
   labelPos: [[1,-7,14],[2,-7],[6,-8],[6,-8],[4,-6],[5,-9],[8,13],[-1,-8],[0,-10],[4,-8],[9,-7],[4,-8]]}
];

const pies = [
  {data: apdPie, c: [575, 161], r: 46, pos: [[639,155],[582,220],[546,213],[529,197],[513,136]]},
  {data: apnPie, c: [574, 364], r: 47, pos: [[642,352],[596,427],[566,428],[540,418],[506,354]]},
  {data: judPie, c: [1241, 161], r: 39, pos: [[1300,167],[1210,203],[1190,179],[1189,159],[1207,117]]},
  {data: junPie, c: [1240, 366], r: 44, pos: [[1305,373],[1196,406],[1180,380],[1181,359],[1200,322]]},
  {data: ocdPie, c: [574, 599], r: 62, pos: [[656,597],[538,667],[506,640],[498,622],[513,548]]},
  {data: ocnPie, c: [574, 804], r: 49, pos: [[643,808],[552,864],[528,847],[520,830],[515,769]]},
  {data: jadPie, c: [1240, 599], r: 83, pos: [[1341,572],[1229,702],[1179,676],[1153,656],[1145,552]]},
  {data: janPie, c: [1240, 803], r: 85, pos: [[1340,766],[1289,889],[1210,890],[1183,880],[1137,773]]}
];

const tags = [
  ['APD +', 116, 66], ['APN +', 118, 418], ['JUD +', 779, 62], ['JUN +', 782, 420],
  ['OCD +', 118, 506], ['OCN +', 118, 856], ['JAD +', 782, 501], ['JAN +', 780, 859]
];

Chart.defaults.font.family = '"Liberation Sans", Arial, sans-serif';
Chart.defaults.color = '#000';

// piecewise map of a value onto pixel offset from zero (broken axis)
function toPx(v, segs) {
  for (const [v0, v1, p0, p1] of segs) {
    if (v <= v1) return v < v0 ? p0 : p0 + (v - v0) * (p1 - p0) / (v1 - v0);
  }
  return segs[segs.length - 1][3];
}

function addCanvas(left, top, w, h) {
  const cv = document.createElement('canvas');
  cv.width = w; cv.height = h;
  cv.style.left = left + 'px'; cv.style.top = top + 'px';
  cv.style.width = w + 'px'; cv.style.height = h + 'px';
  document.body.appendChild(cv);
  return cv;
}

function makeExtras(p) {
  return {
    id: 'extras',
    afterDraw(chart) {
      const ctx = chart.ctx, xs = chart.scales.x, ys = chart.scales.y, L = chart.chartArea.left;
      ctx.save();
      ctx.strokeStyle = '#000';
      ctx.lineWidth = 1.2;
      const minor = p.minorUp.map(v => toPx(v, p.segUp)).concat(p.minorDown.map(v => -toPx(v, p.segDown)));
      minor.forEach(d => {
        const py = Math.round(ys.getPixelForValue(d)) + 0.5;
        ctx.beginPath(); ctx.moveTo(L - 3.5, py); ctx.lineTo(L, py); ctx.stroke();
      });
      // axis break marks
      [[p.segUp, 1], [p.segDown, -1]].forEach(([segs, sgn]) => {
        for (let i = 1; i < segs.length; i++) {
          const py = ys.getPixelForValue(sgn * (segs[i - 1][3] + segs[i][2]) / 2);
          ctx.fillStyle = '#fff';
          ctx.fillRect(L - 2, py - 2, 4, 4);
          ctx.beginPath();
          ctx.moveTo(L - 5, py - 0.5); ctx.lineTo(L + 5, py - 4);
          ctx.moveTo(L - 5, py + 3.5); ctx.lineTo(L + 5, py);
          ctx.stroke();
        }
      });
      // peak letters
      ctx.fillStyle = '#000';
      ctx.textAlign = 'center';
      ctx.textBaseline = 'middle';
      p.labels.forEach(([m, c, t], i) => {
        const pk = p.up.find(d => d[0] === m && d[2] === c);
        const [dx, dy, fs] = p.labelPos[i];
        ctx.font = (fs || 19) + 'px "Liberation Sans", Arial, sans-serif';
        ctx.fillText(t, xs.getPixelForValue(m) + dx, ys.getPixelForValue(toPx(pk[1], p.segUp)) + dy);
      });
      ctx.restore();
    }
  };
}

panels.forEach(p => {
  const [left, top, w, h] = p.box;
  const cv = addCanvas(left, top, w, h);
  const tUp = p.ticksUp.map(s => ({px: toPx(parseFloat(s), p.segUp), label: s}));
  const tDown = p.ticksDown.map(s => ({px: -toPx(parseFloat(s), p.segDown), label: s}));
  const tickList = tDown.reverse().concat(tUp);
  const topPx = p.segUp[p.segUp.length - 1][3];
  const botPx = p.segDown[p.segDown.length - 1][3];

  const datasets = classes.map((name, c) => ({
    label: name,
    data: p.up.filter(d => d[2] === c).map(d => ({x: d[0], y: toPx(d[1], p.segUp)}))
      .concat(p.down.filter(d => d[2] === c).map(d => ({x: d[0], y: -toPx(d[1], p.segDown)}))),
    backgroundColor: colors[c],
    borderWidth: 0,
    barThickness: 1,
    grouped: false,
    order: c
  }));

  new Chart(cv, {
    type: 'bar',
    data: {datasets},
    options: {
      responsive: false,
      animation: false,
      events: [],
      layout: {padding: {top: p.padTop, right: p.padRight, left: 0, bottom: 0}},
      plugins: {legend: {display: false}, tooltip: {enabled: false}},
      scales: {
        x: {
          type: 'linear', min: 50, max: 500, offset: false,
          afterBuildTicks: s => { s.ticks = massTicks.map(v => ({value: v})); },
          ticks: {display: p.xLabels, autoSkip: false, maxRotation: 0, padding: 2, color: '#000',
                  font: {size: 20, weight: 'bold'}, callback: v => (v % 100 === 0 ? String(v) : '')},
          grid: {drawOnChartArea: false, tickLength: 6, tickColor: '#000', tickWidth: 1.5, offset: false},
          border: {color: '#000', width: 1.5},
          title: {display: p.xLabels, text: 'Neutral mass (Da)', color: '#000', padding: 0,
                  font: {family: '"Liberation Serif", "Times New Roman", serif', size: 24, weight: 'bold', lineHeight: 1}},
          afterFit: s => { s.height = p.xh; s.paddingLeft = 0; s.paddingRight = 0; }
        },
        y: {
          type: 'linear', min: -botPx, max: topPx,
          afterBuildTicks: s => { s.ticks = tickList.map(t => ({value: t.px})); },
          ticks: {autoSkip: false, padding: p.tickPad, color: '#000', font: {size: 20, weight: 'bold'},
                  callback: (v, i) => tickList[i].label},
          grid: {drawOnChartArea: true, tickLength: 6, tickColor: '#000', tickWidth: 1.5,
                 color: c => (c.tick && c.tick.value === 0 ? '#000' : 'rgba(0,0,0,0)'),
                 lineWidth: c => (c.tick && c.tick.value === 0 ? 2 : 0)},
          border: {color: '#000', width: 1.5},
          title: {display: p.yTitle, text: 'Relative peak area', color: '#000', padding: {top: 10, bottom: 0},
                  font: {family: '"Liberation Serif", "Times New Roman", serif', size: 24, weight: 'bold', lineHeight: 1}},
          afterFit: s => { s.width = p.yw; s.paddingTop = 0; s.paddingBottom = 0; }
        }
      }
    },
    plugins: [makeExtras(p)]
  });
});

pies.forEach(pie => {
  const size = pie.r * 2 + 2;
  const cv = addCanvas(pie.c[0] - size / 2, pie.c[1] - size / 2, size, size);
  new Chart(cv, {
    type: 'pie',
    data: {labels: classes, datasets: [{data: pie.data, backgroundColor: colors, borderColor: '#000', borderWidth: 0.8}]},
    options: {
      responsive: false, animation: false, events: [],
      layout: {padding: 0},
      plugins: {legend: {display: false}, tooltip: {enabled: false}}
    }
  });
  pie.data.forEach((v, i) => {
    const d = document.createElement('div');
    d.className = 'pct';
    d.textContent = v + '%';
    d.style.left = pie.pos[i][0] + 'px';
    d.style.top = pie.pos[i][1] + 'px';
    document.body.appendChild(d);
  });
});

tags.forEach(([t, x, y]) => {
  const d = document.createElement('div');
  d.className = 'tag';
  d.textContent = t;
  d.style.left = x + 'px';
  d.style.top = y + 'px';
  document.body.appendChild(d);
});

const legend = document.getElementById('legend');
classes.forEach((name, c) => {
  const s = document.createElement('span');
  s.textContent = name;
  s.style.color = colors[c];
  legend.appendChild(s);
  if (c < classes.length - 1) legend.appendChild(document.createTextNode(' '));
});
const star = document.createElement('sup');
star.textContent = '*';
legend.appendChild(star);
</script>
</body>
</html>
